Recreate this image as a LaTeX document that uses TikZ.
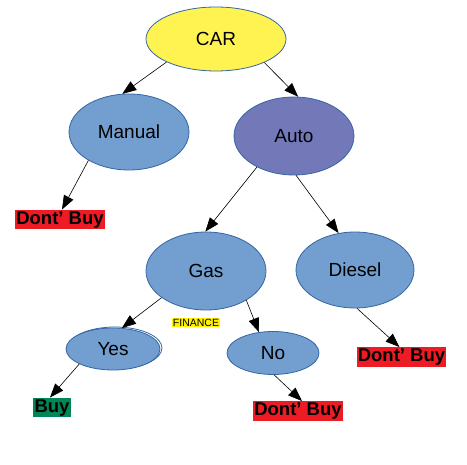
\documentclass[tikz,border=0pt]{standalone}
\usepackage{fontspec}
\setmainfont{Liberation Sans}
\usetikzlibrary{shapes.geometric,arrows.meta}
\definecolor{caryellow}{RGB}{255,243,82}
\definecolor{nodeblue}{RGB}{114,159,207}
\definecolor{autoblue}{RGB}{114,120,184}
\definecolor{edgeblue}{RGB}{52,101,164}
\definecolor{buyred}{RGB}{237,28,36}
\definecolor{buygreen}{RGB}{0,135,85}
\tikzset{
  ell/.style={ellipse, draw=edgeblue, line width=0.8pt, fill=nodeblue, inner sep=0pt, font=\fontsize{19}{21}\selectfont},
  verdict/.style={fill=buyred, inner xsep=1.2pt, inner ysep=1pt, font=\fontsize{18.5}{20}\selectfont\bfseries, text height=13.5pt, text depth=4pt},
  conn/.style={draw=black, line width=0.6pt, -{Triangle[length=14pt,width=10.5pt]}},
}
\begin{document}
\begin{tikzpicture}[x=1pt,y=-1pt]
\useasboundingbox (0,0) rectangle (467,465);
\node[ell, fill=caryellow, minimum width=140pt, minimum height=64pt] (car) at (216,39) {CAR};
\node[ell, minimum width=120pt, minimum height=76pt] (manual) at (129,132) {Manual};
\node[ell, fill=autoblue, minimum width=120pt, minimum height=78pt] (auto) at (294,136) {Auto};
\node[ell, minimum width=120pt, minimum height=78pt] (gas) at (206,271) {Gas};
\node[ell, minimum width=118pt, minimum height=76pt] (diesel) at (355,270) {Diesel};
\draw[edgeblue, line width=0.8pt] (115,348) ellipse [x radius=47pt, y radius=21pt];
\node[ell, minimum width=94pt, minimum height=42pt] (yes) at (113,349) {Yes};
\node[ell, minimum width=92pt, minimum height=43pt] (no) at (273,353) {No};
\node[verdict] (db1) at (60,219.5) {Dont’ Buy};
\node[verdict, fill=buygreen] (buy) at (52,407.5) {Buy};
\node[verdict] (db2) at (298,411) {Dont’ Buy};
\node[verdict] (db3) at (401.5,357) {Dont’ Buy};
\node[fill=yellow, inner xsep=0.5pt, inner ysep=0.3pt, font=\fontsize{10.5}{11}\selectfont] (fin) at (196,322.5) {FINANCE};
\draw[conn] (car.205) -- (manual.100);
\draw[conn] (car.334) -- (auto.84);
\draw[conn] (manual.215) -- ([xshift=2pt]db1.north);
\draw[conn] (auto.220) -- (gas.91);
\draw[conn] (auto.273) -- (diesel.114);
\draw[conn] (gas.211) -- (yes.67);
\draw[conn] (gas.324) -- (no.124);
\draw[conn] (yes.204) -- ([xshift=-2pt]buy.north);
\draw[conn] (no.273) -- ([xshift=4pt]db2.north);
\draw[conn] (diesel.273) -- ([xshift=-2pt]db3.north);
\end{tikzpicture}
\end{document}
